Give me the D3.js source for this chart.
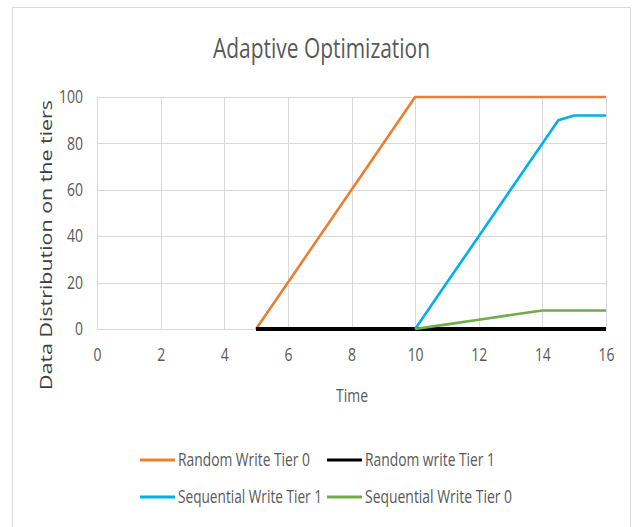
<!DOCTYPE html>
<html><head><meta charset="utf-8">
<script src="https://cdn.jsdelivr.net/npm/d3@7"></script>
<style>body{margin:0;background:#fff}</style>
</head><body>
<svg id="c" width="634" height="527"></svg>
<script>
const title = "Adaptive Optimization";
const xTitle = "Time";
const yTitle = "Data Distribution on the tiers";
const xTicks = [0,2,4,6,8,10,12,14,16];
const yTicks = [0,20,40,60,80,100];
const randomTier0 = [[5,0],[10,100],[16,100]];
const randomTier1 = [[5,0],[10,0],[16,0]];
const seqTier1 = [[10,0],[11,20],[12,40],[13,60],[14,80],[14.5,90],[15,92],[16,92]];
const seqTier0 = [[10,0],[11,2],[12,4],[13,6],[14,8],[15,8],[16,8]];
const seriesNames = ["Random Write Tier 0","Random write Tier 1","Sequential Write Tier 1","Sequential Write Tier 0"];
const seriesColors = ["#ED7D31","#000000","#00B0F0","#70AD47"];

const series = [
  {name:seriesNames[0], color:seriesColors[0], data:randomTier0, w:2.6, lx:140, ly:460, tl:132},
  {name:seriesNames[1], color:seriesColors[1], data:randomTier1, w:4, lx:327, ly:460, tl:130},
  {name:seriesNames[2], color:seriesColors[2], data:seqTier1, w:2.6, lx:140, ly:497, tl:144},
  {name:seriesNames[3], color:seriesColors[3], data:seqTier0, w:2.6, lx:327, ly:497, tl:147}
];
const FONT = "'Open Sans',sans-serif";
const svg = d3.select("#c");
svg.append("rect").attr("x",12.5).attr("y",7.5).attr("width",618).attr("height",540)
  .attr("fill","#fff").attr("stroke","#d9d9d9").attr("stroke-width",1);

const x = d3.scaleLinear().domain([0,16]).range([97,606]);
const y = d3.scaleLinear().domain([0,100]).range([329,97]);

const g = svg.append("g");
g.selectAll(".vg").data(xTicks).join("line")
  .attr("x1",d=>Math.round(x(d))+0.5).attr("x2",d=>Math.round(x(d))+0.5)
  .attr("y1",y(100)).attr("y2",y(0)).attr("stroke","#d9d9d9").attr("stroke-width",1);
g.selectAll(".hg").data(yTicks).join("line")
  .attr("x1",x(0)).attr("x2",x(16))
  .attr("y1",d=>Math.round(y(d))+0.5).attr("y2",d=>Math.round(y(d))+0.5)
  .attr("stroke","#d9d9d9").attr("stroke-width",1);

const xAxis = d3.axisBottom(x).tickValues(xTicks).tickSize(0).tickPadding(20);
const xa = svg.append("g").attr("transform",`translate(0,${y(0)})`).call(xAxis);
xa.select(".domain").remove();
xa.selectAll("text").attr("font-family",FONT).attr("font-size",17.5).attr("fill","#595959");
xa.selectAll(".tick text").each(function(){ const t=d3.select(this); t.attr("textLength", t.text().length*8).attr("lengthAdjust","spacingAndGlyphs"); });
const yAxis = d3.axisLeft(y).tickValues(yTicks).tickSize(0).tickPadding(14);
const ya = svg.append("g").attr("transform",`translate(${x(0)},0)`).call(yAxis);
ya.select(".domain").remove();
ya.selectAll("text").attr("font-family",FONT).attr("font-size",17.5).attr("fill","#595959");
ya.selectAll(".tick text").each(function(){ const t=d3.select(this); t.attr("textLength", t.text().length*8).attr("lengthAdjust","spacingAndGlyphs"); });

const line = d3.line().x(d=>x(d[0])).y(d=>y(d[1]));
series.forEach(s=>{
  svg.append("path").attr("d",line(s.data)).attr("fill","none")
    .attr("stroke",s.color).attr("stroke-width",s.w).attr("stroke-linejoin","round");
});

svg.append("text").attr("x",213).attr("y",58)
  .attr("font-family",FONT).attr("font-size",27).attr("fill","#595959")
  .attr("textLength",217).attr("lengthAdjust","spacingAndGlyphs").text(title);
svg.append("text").attr("x",336).attr("y",402)
  .attr("font-family",FONT).attr("font-size",19).attr("fill","#595959")
  .attr("textLength",32).attr("lengthAdjust","spacingAndGlyphs").text(xTitle);
svg.append("text").attr("transform","translate(52,390) rotate(-90)")
  .attr("font-family",FONT).attr("font-size",17).attr("fill","#404040")
  .attr("textLength",290).attr("lengthAdjust","spacingAndGlyphs").text(yTitle);

series.forEach(s=>{
  svg.append("line").attr("x1",s.lx).attr("x2",s.lx+35).attr("y1",s.ly).attr("y2",s.ly)
    .attr("stroke",s.color).attr("stroke-width",3);
  svg.append("text").attr("x",s.lx+38).attr("y",s.ly+6).attr("font-family",FONT)
    .attr("font-size",17.5).attr("fill","#595959")
    .attr("textLength",s.tl).attr("lengthAdjust","spacingAndGlyphs").text(s.name);
});
</script>
</body></html>
